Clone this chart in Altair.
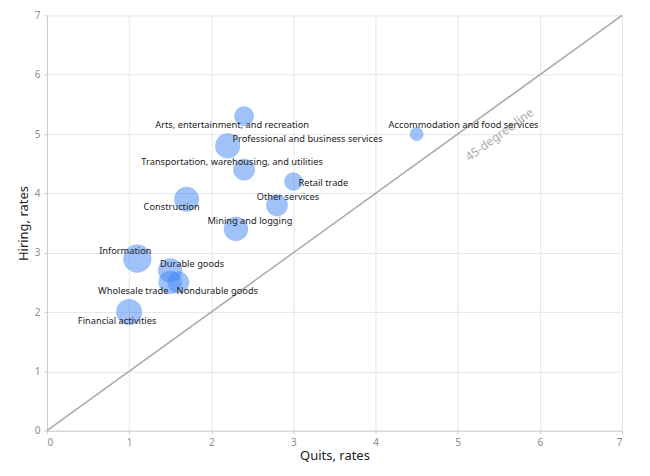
import altair as alt
import pandas as pd

industries = [
    "Arts, entertainment, and recreation",
    "Professional and business services",
    "Transportation, warehousing, and utilities",
    "Retail trade",
    "Other services",
    "Construction",
    "Mining and logging",
    "Information",
    "Durable goods",
    "Wholesale trade",
    "Nondurable goods",
    "Financial activities",
    "Accommodation and food services",
]
quits = [2.4, 2.2, 2.4, 3.0, 2.8, 1.7, 2.3, 1.1, 1.5, 1.5, 1.6, 1.0, 4.5]
hires = [5.3, 4.8, 4.4, 4.2, 3.8, 3.9, 3.4, 2.9, 2.7, 2.5, 2.5, 2.0, 5.0]
weight = [0.40, 0.63, 0.48, 0.35, 0.48, 0.62, 0.60, 0.80, 0.59, 0.55, 0.48, 0.68, 0.19]
tick_values = [0, 1, 2, 3, 4, 5, 6, 7]

# label offsets (px) for each industry label: (dx, dy)
label_offsets = {
    "Arts, entertainment, and recreation": (-12, 9),
    "Professional and business services": (80, -7),
    "Transportation, warehousing, and utilities": (-12, -8),
    "Retail trade": (30, 2),
    "Other services": (11, -8),
    "Construction": (-15, 8),
    "Mining and logging": (14, -8),
    "Information": (-12, -8),
    "Durable goods": (22, -6),
    "Wholesale trade": (-37, 9),
    "Nondurable goods": (39, 9),
    "Financial activities": (-12, 9),
    "Accommodation and food services": (47, -9),
}

line_x = [0, 7]
line_y = [0, 7]
line_label = ["45-degree line"]
line_label_x = [5.33]
line_label_y = [5.33]

df = pd.DataFrame({"industry": industries, "quits": quits, "hires": hires, "weight": weight})
line_df = pd.DataFrame({"x": line_x, "y": line_y})
ll_df = pd.DataFrame({"label": line_label, "x": line_label_x, "y": line_label_y})

FONT = "Noto Sans"

xscale = alt.Scale(domain=[0, 7], nice=False)
yscale = alt.Scale(domain=[0, 7], nice=False)

x_axis = alt.Axis(values=tick_values, labelOverlap=False, format="d", titlePadding=2)
y_axis = alt.Axis(values=tick_values, labelOverlap=False, format="d")

x_enc = alt.X("quits:Q", scale=xscale, title="Quits, rates", axis=x_axis)
y_enc = alt.Y("hires:Q", scale=yscale, title="Hiring, rates", axis=y_axis)

line = alt.Chart(line_df).mark_line(color="#aaaaaa", strokeWidth=1.5).encode(
    x=alt.X("x:Q", scale=xscale, title="Quits, rates", axis=x_axis),
    y=alt.Y("y:Q", scale=yscale, title="Hiring, rates", axis=y_axis),
)

line_text = alt.Chart(ll_df).mark_text(
    angle=324, dy=25, fontSize=12, color="#aaaaaa", font=FONT
).encode(
    x=alt.X("x:Q", scale=xscale),
    y=alt.Y("y:Q", scale=yscale),
    text="label:N",
)

points = alt.Chart(df).mark_circle(color="#4285f4", opacity=0.5).encode(
    x=x_enc,
    y=y_enc,
    size=alt.Size("weight:Q", scale=alt.Scale(domain=[0, 1], range=[0, 1000]), legend=None),
)

label_layers = []
for name in industries:
    dx, dy = label_offsets[name]
    label_layers.append(
        alt.Chart(df).transform_filter(alt.datum.industry == name).mark_text(
            dx=dx, dy=dy, fontSize=9.3, color="#222222", font=FONT
        ).encode(x=x_enc, y=y_enc, text="industry:N")
    )

chart = alt.layer(line, points, line_text, *label_layers).properties(
    width=576, height=416,
    autosize=alt.AutoSizeParams(type="none"),
    padding={"left": 39, "top": 7, "right": 20, "bottom": 40},
).configure_view(stroke=None).configure_axis(
    labelFont=FONT, titleFont=FONT, labelColor="#8c8c8c", titleColor="#222222",
    labelFontSize=10, titleFontSize=13, titleFontWeight="normal",
    gridColor="#e6e6e6", domainColor="#cccccc", tickColor="#cccccc", tickSize=3,
    labelPadding=4,
)

chart.save("out.html", embed_options={"renderer": "svg", "actions": False})
